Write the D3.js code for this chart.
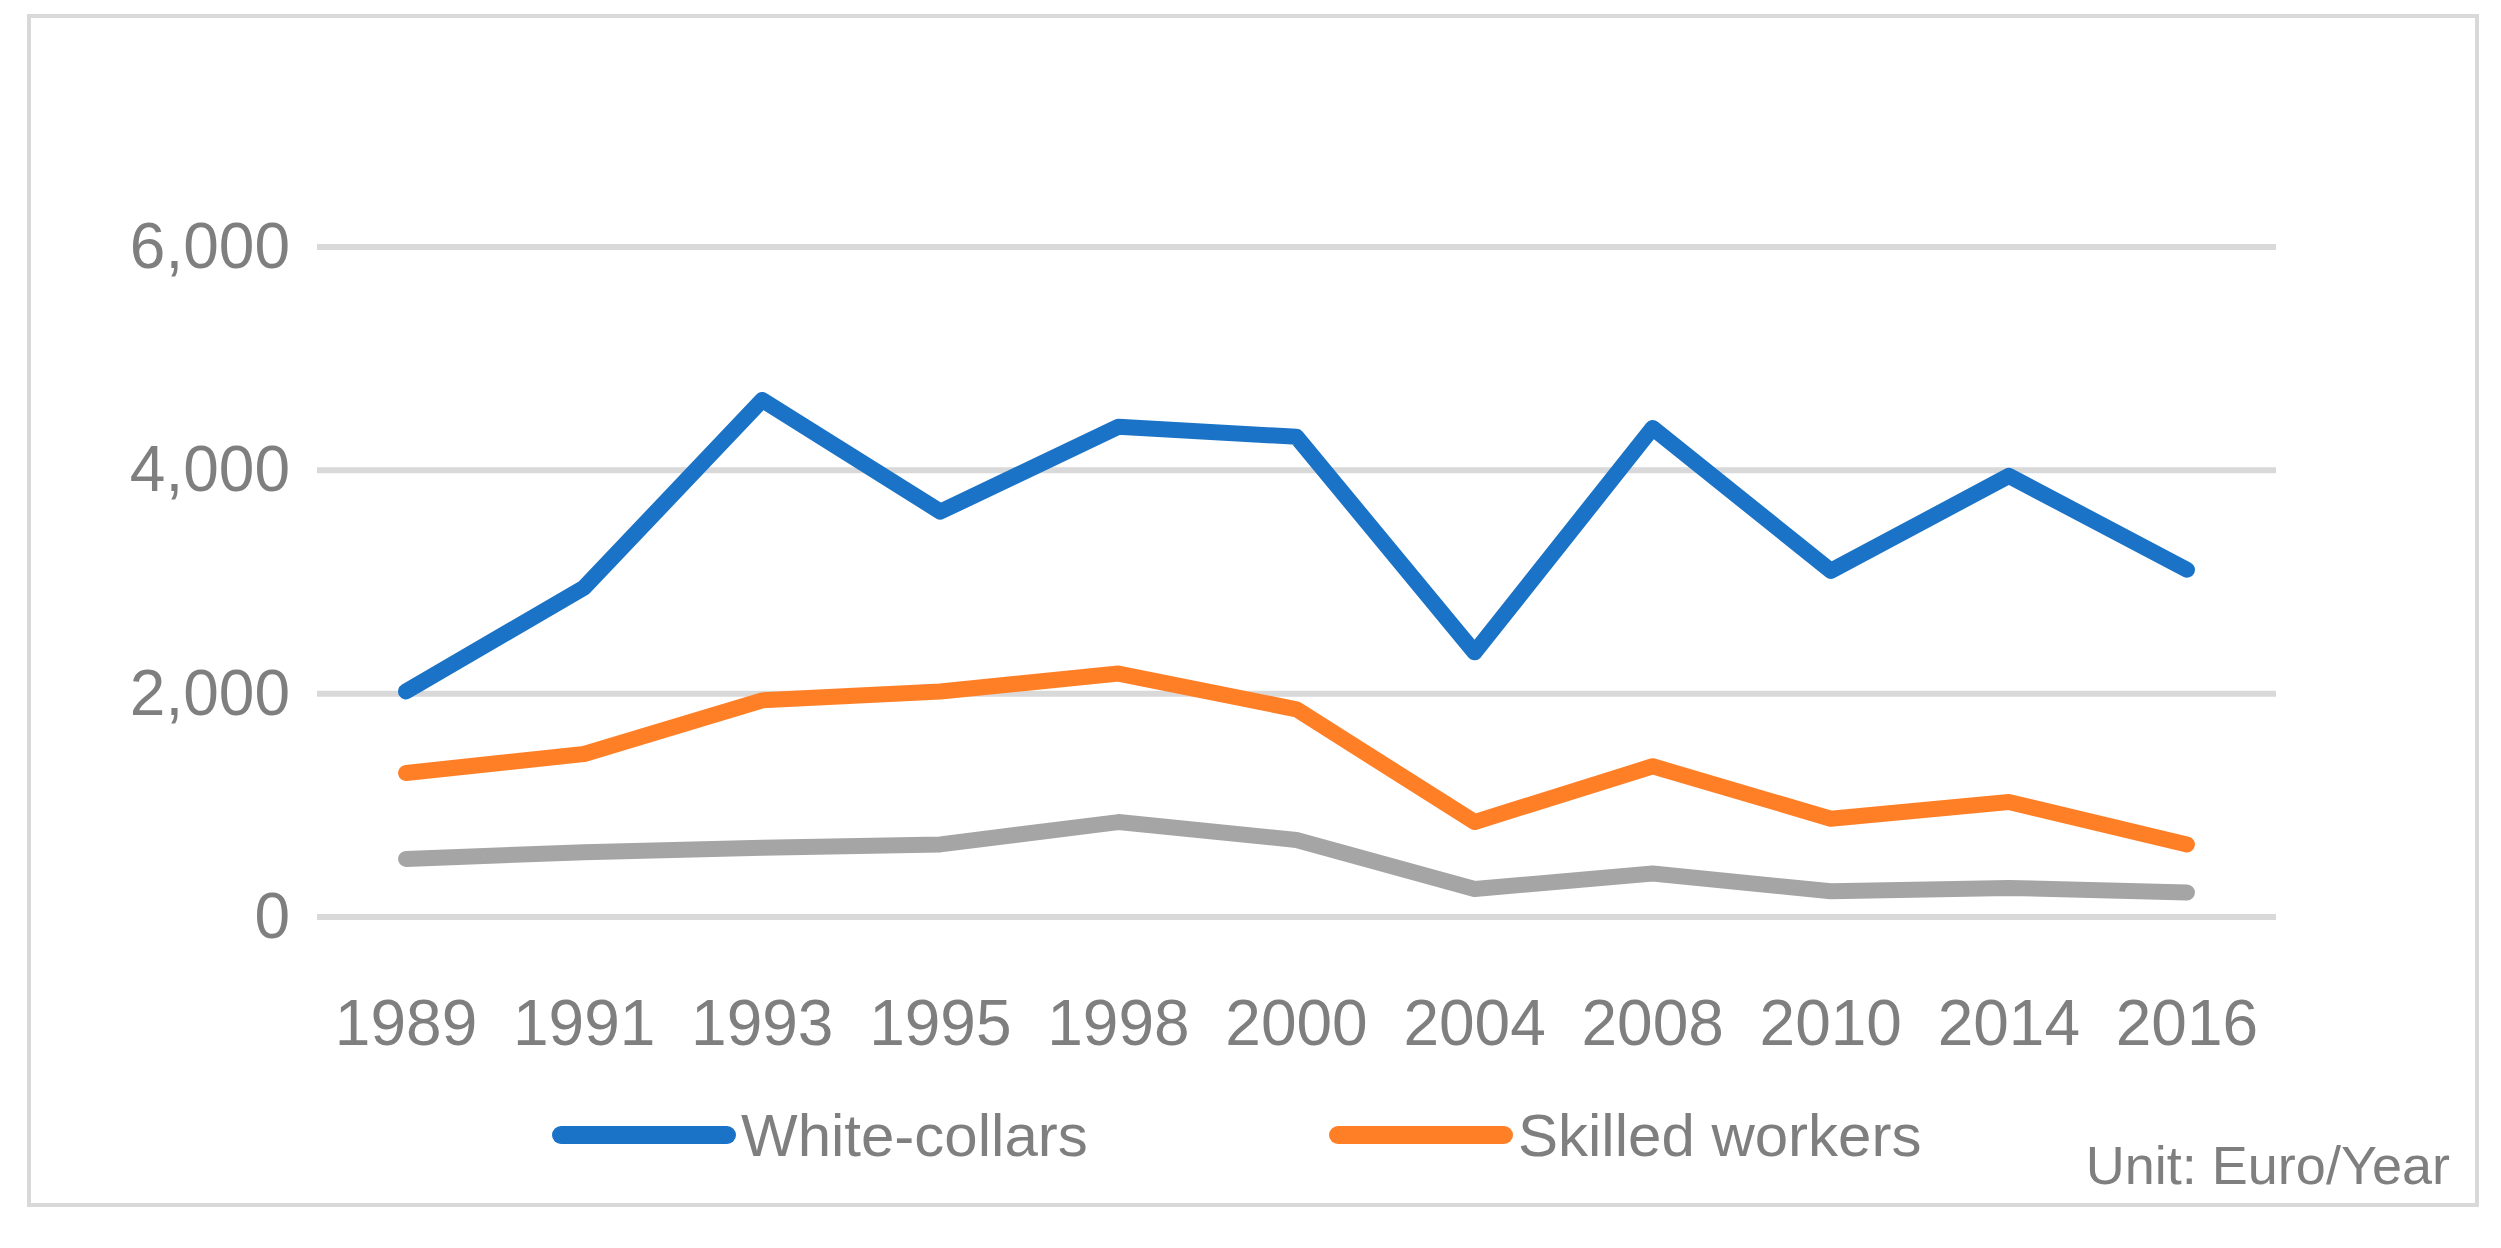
<!DOCTYPE html>
<html><head><meta charset="utf-8">
<script src="https://cdn.jsdelivr.net/npm/d3@7"></script>
<style>body{margin:0;background:#fff}</style>
</head><body>
<svg id="chart" width="2501" height="1248"></svg>
<script>
var years = ["1989","1991","1993","1995","1998","2000","2004","2008","2010","2014","2016"];
var whiteCollars = [2020,2950,4630,3630,4390,4300,2370,4380,3100,3950,3110];
var skilledWorkers = [1290,1460,1940,2020,2180,1860,850,1350,880,1030,650];
var unskilled = [520,580,620,650,850,690,250,390,230,260,220];
var yTicks = [0,2000,4000,6000];

var width = 2501, height = 1248;
var fontFam = "Liberation Sans, Arial, sans-serif";
var textColor = "#7f7f7f";
var svg = d3.select("#chart");

// outer border
svg.append("rect")
  .attr("x", 29).attr("y", 16)
  .attr("width", 2448).attr("height", 1189)
  .attr("fill", "#fff").attr("stroke", "#d9d9d9").attr("stroke-width", 4);

var xScale = d3.scaleBand().domain(years).range([317, 2276]);
var yScale = d3.scaleLinear().domain([0, 6000]).range([917, 247]);

// gridlines
svg.append("g").selectAll("line").data(yTicks).enter().append("line")
  .attr("x1", 317).attr("x2", 2276)
  .attr("y1", function(d){ return yScale(d); })
  .attr("y2", function(d){ return yScale(d); })
  .attr("stroke", "#d9d9d9").attr("stroke-width", 6);

// y axis
svg.append("g")
  .attr("transform", "translate(290,0)")
  .call(d3.axisLeft(yScale).tickValues(yTicks).tickFormat(d3.format(",")).tickSize(0).tickPadding(0))
  .call(function(g){ g.select(".domain").remove(); })
  .selectAll("text")
  .style("font-size", "64px").style("font-family", fontFam).attr("fill", textColor);

// x axis
svg.append("g")
  .attr("transform", "translate(0,1000)")
  .call(d3.axisBottom(xScale).tickSize(0).tickPadding(0))
  .call(function(g){ g.select(".domain").remove(); })
  .selectAll("text")
  .style("font-size", "64px").style("font-family", fontFam).attr("fill", textColor);

var line = d3.line()
  .x(function(d, i){ return xScale(years[i]) + xScale.bandwidth() / 2; })
  .y(function(d){ return yScale(d); });

var series = [
  {values: unskilled, color: "#a5a5a5"},
  {values: skilledWorkers, color: "#ff7f27"},
  {values: whiteCollars, color: "#1a73c6"}
];
series.forEach(function(s){
  svg.append("path")
    .attr("d", line(s.values))
    .attr("fill", "none")
    .attr("stroke", s.color)
    .attr("stroke-width", 16)
    .attr("stroke-linecap", "round")
    .attr("stroke-linejoin", "round");
});

// legend
var legend = [
  {name: "White-collars", color: "#1a73c6", x: 561},
  {name: "Skilled workers", color: "#ff7f27", x: 1338}
];
legend.forEach(function(l){
  svg.append("line")
    .attr("x1", l.x).attr("x2", l.x + 166)
    .attr("y1", 1135).attr("y2", 1135)
    .attr("stroke", l.color).attr("stroke-width", 18)
    .attr("stroke-linecap", "round");
  svg.append("text")
    .text(l.name)
    .attr("x", l.x + 180).attr("y", 1156)
    .style("font-size", "60px").style("font-family", fontFam)
    .attr("fill", textColor);
});

svg.append("text")
  .text("Unit: Euro/Year")
  .attr("x", 2450).attr("y", 1184)
  .attr("text-anchor", "end")
  .style("font-size", "54px").style("font-family", fontFam)
  .attr("fill", textColor);
</script>
</body></html>
